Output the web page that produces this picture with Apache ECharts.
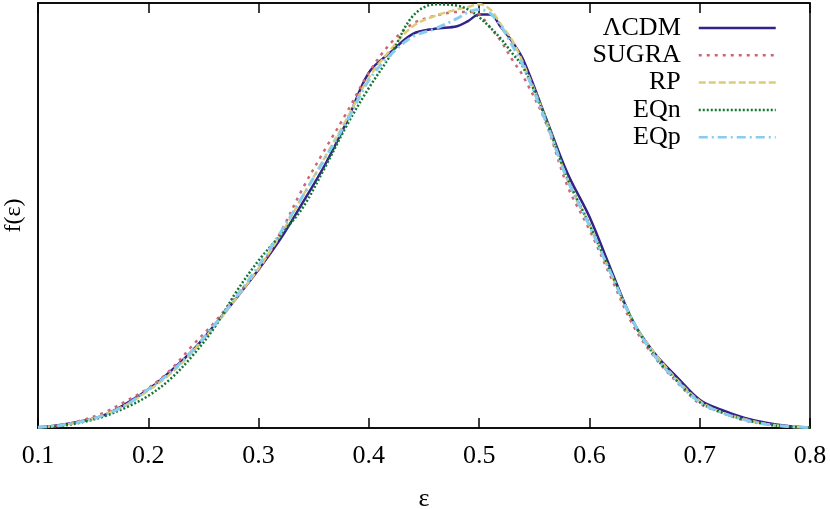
<!DOCTYPE html>
<html>
<head>
<meta charset="utf-8">
<script src="https://cdn.jsdelivr.net/npm/echarts@6/dist/echarts.min.js"></script>
<style>
  html, body { margin: 0; padding: 0; background: #fff; }
  #chart { width: 830px; height: 509px; }
</style>
</head>
<body>
<div id="chart"></div>
<script>
// epsilon grid shared by all curves
const eps = [0.10, 0.12, 0.14, 0.16, 0.18, 0.20, 0.22, 0.24, 0.26, 0.28, 0.30, 0.32, 0.34, 0.36,
  0.38, 0.40, 0.42, 0.44, 0.46, 0.48, 0.49, 0.50, 0.51, 0.52, 0.53, 0.54, 0.56, 0.58, 0.60,
  0.62, 0.64, 0.66, 0.68, 0.70, 0.72, 0.74, 0.76, 0.78, 0.80]

const lcdm = [0.005, 0.023, 0.054, 0.10, 0.19, 0.30, 0.44, 0.60, 0.80, 1.01, 1.23, 1.47, 1.75, 2.04,
  2.38, 2.76, 2.92, 3.06, 3.10, 3.12, 3.16, 3.21, 3.21, 3.11, 3.00, 2.86, 2.42, 1.98, 1.64,
  1.22, 0.82, 0.57, 0.39, 0.22, 0.14, 0.08, 0.04, 0.016, 0.004]
const sugra = [0.005, 0.02, 0.06, 0.12, 0.21, 0.31, 0.45, 0.64, 0.82, 1.03, 1.23, 1.52, 1.86, 2.16,
  2.45, 2.76, 2.99, 3.14, 3.20, 3.23, 3.23, 3.21, 3.11, 3.00, 2.86, 2.73, 2.38, 1.88, 1.54,
  1.16, 0.79, 0.54, 0.35, 0.19, 0.12, 0.06, 0.03, 0.01, 0.003]
const rp = [0.005, 0.02, 0.05, 0.10, 0.18, 0.29, 0.42, 0.59, 0.79, 1.01, 1.24, 1.50, 1.80, 2.10,
  2.40, 2.72, 2.94, 3.12, 3.20, 3.25, 3.27, 3.29, 3.25, 3.13, 3.01, 2.83, 2.41, 1.93, 1.58,
  1.19, 0.82, 0.57, 0.37, 0.21, 0.12, 0.07, 0.03, 0.012, 0.003]
const eqn = [0.005, 0.015, 0.045, 0.09, 0.16, 0.25, 0.38, 0.56, 0.78, 1.06, 1.30, 1.50, 1.71, 2.02,
  2.35, 2.64, 2.90, 3.20, 3.29, 3.28, 3.25, 3.19, 3.11, 3.02, 2.91, 2.80, 2.41, 1.94, 1.58,
  1.20, 0.82, 0.55, 0.36, 0.20, 0.12, 0.065, 0.03, 0.01, 0.003]
const eqp = [0.005, 0.02, 0.05, 0.10, 0.18, 0.30, 0.43, 0.60, 0.80, 1.02, 1.26, 1.52, 1.80, 2.09,
  2.38, 2.70, 2.90, 3.04, 3.10, 3.18, 3.23, 3.25, 3.22, 3.12, 2.97, 2.81, 2.39, 1.93, 1.57,
  1.19, 0.82, 0.55, 0.36, 0.20, 0.12, 0.065, 0.03, 0.012, 0.003]

const names = ['ΛCDM', 'SUGRA', 'RP', 'EQn', 'EQp']

const font = 'Liberation Serif, Times New Roman, serif'
const pairs = ys => eps.map((x, i) => [x, ys[i]])

const myChart = echarts.init(document.getElementById('chart'))

function line(name, ys, color, type, width) {
  return {
    name,
    type: 'line',
    data: pairs(ys),
    smooth: 0.35,
    symbol: 'none',
    lineStyle: { color, type, width, cap: 'butt' },
    itemStyle: { color }
  }
}

const option = {
  animation: false,
  backgroundColor: '#fff',
  grid: {
    left: 38, right: 20, top: 3, bottom: 81,
    outerBoundsMode: 'none',
    containLabel: false,
    show: true, borderColor: '#000', borderWidth: 1.5
  },
  legend: {
    data: names,
    orient: 'vertical',
    align: 'right',
    right: 53,
    top: 15,
    padding: 0,
    itemWidth: 77,
    itemHeight: 14,
    itemGap: 1.3,
    itemStyle: { opacity: 0 },
    lineStyle: { width: 2.5 },
    textStyle: { fontFamily: font, fontSize: 26, color: '#000', lineHeight: 26, padding: [0, 13, 0, 0] }
  },
  xAxis: [
    {
      type: 'value',
      min: 0.1,
      max: 0.8,
      interval: 0.1,
      name: 'ε',
      nameLocation: 'middle',
      nameGap: 58,
      nameTextStyle: { fontFamily: font, fontSize: 26, color: '#000' },
      axisLine: { lineStyle: { color: '#000', width: 1.5 } },
      axisTick: { inside: true, length: 10, lineStyle: { color: '#000', width: 1.5 } },
      axisLabel: {
        fontFamily: font, fontSize: 26, color: '#000', margin: 15,
        formatter: v => v.toFixed(1)
      },
      splitLine: { show: false }
    },
    {
      type: 'value',
      position: 'top',
      min: 0.1,
      max: 0.8,
      interval: 0.1,
      axisLine: { lineStyle: { color: '#000', width: 1.5 } },
      axisTick: { inside: true, length: 10, lineStyle: { color: '#000', width: 1.5 } },
      axisLabel: { show: false },
      splitLine: { show: false }
    }
  ],
  yAxis: {
    type: 'value',
    min: 0,
    max: 3.3,
    name: 'f(ε)',
    nameLocation: 'middle',
    nameGap: 12,
    nameTextStyle: { fontFamily: font, fontSize: 24, color: '#000' },
    axisLine: { show: true, lineStyle: { color: '#000', width: 1.5 } },
    axisTick: { show: false },
    axisLabel: { show: false },
    splitLine: { show: false }
  },
  series: [
    line('ΛCDM', lcdm, '#332288', 'solid', 2.5),
    line('SUGRA', sugra, '#CC6677', [3, 5], 2.5),
    line('RP', rp, '#DDCC77', [7, 3], 2.5),
    line('EQn', eqn, '#117733', [2, 2], 2.5),
    line('EQp', eqp, '#88CCEE', [9, 4, 2, 4], 3)
  ]
}

myChart.setOption(option)
</script>
</body>
</html>
